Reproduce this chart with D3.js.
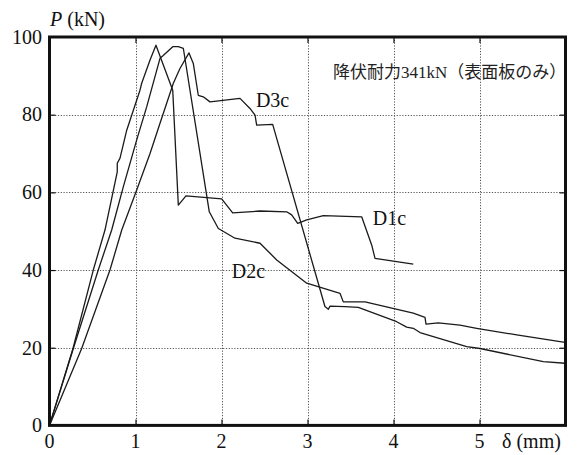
<!DOCTYPE html>
<html>
<head>
<meta charset="utf-8">
<script src="https://cdn.jsdelivr.net/npm/d3@7"></script>
<style>
  html, body { margin: 0; padding: 0; background: #fff; }
  svg { display: block; }
</style>
</head>
<body>
<svg id="chart" width="577" height="455"></svg>
<script>
// Load–displacement curves of the three specimens: [δ (mm), P (kN)]
const d1c = [
  [0, 0], [0.273, 19.8], [0.509, 40.0], [0.645, 50.3], [0.788, 65.3], [0.788, 67.5],
  [0.820, 68.8], [0.898, 76.0], [1.052, 86.3], [1.072, 88.1], [1.169, 94.1], [1.238, 97.9],
  [1.433, 86.3], [1.498, 56.7], [1.587, 59.1], [2.002, 58.3], [2.130, 54.7], [2.448, 55.2],
  [2.758, 55.0], [2.816, 54.2], [2.886, 52.0], [2.991, 52.9], [3.184, 54.0], [3.630, 53.7],
  [3.747, 46.4], [3.785, 43.0], [4.230, 41.5]
];
const d2c = [
  [0, 0], [0.277, 19.8], [0.567, 40.0], [0.723, 50.3], [0.858, 61.4], [1.014, 73.5],
  [1.130, 82.0], [1.285, 94.5], [1.316, 95.1], [1.433, 97.5], [1.498, 97.5], [1.556, 97.1],
  [1.858, 55.0], [1.963, 50.7], [2.157, 48.2], [2.448, 46.9], [2.642, 42.6], [2.991, 36.6],
  [3.378, 34.0], [3.416, 31.8], [3.669, 31.8], [4.230, 28.9], [4.366, 27.8], [4.378, 26.1],
  [4.521, 26.4], [4.773, 25.8], [4.967, 25.0], [5.433, 23.3], [5.994, 21.4]
];
const d3c = [
  [0, 0], [0.374, 19.8], [0.703, 40.0], [0.840, 50.3], [1.014, 60.6], [1.169, 70.0],
  [1.285, 77.8], [1.440, 88.1], [1.517, 91.9], [1.622, 95.9], [1.672, 93.2], [1.730, 85.0],
  [1.788, 84.6], [1.866, 83.3], [2.215, 84.2], [2.331, 81.6], [2.390, 79.9], [2.409, 77.3],
  [2.595, 77.5], [3.203, 30.6], [3.242, 29.9], [3.262, 30.7], [3.436, 30.6], [3.591, 30.4],
  [4.037, 26.7], [4.153, 25.3], [4.230, 25.0], [4.308, 23.9], [4.851, 20.3], [5.006, 19.8],
  [5.742, 16.4], [5.994, 16.0]
];

const seriesNames = ["D1c", "D2c", "D3c"];
const seriesData = [d1c, d2c, d3c];
// where each series name is written: [δ, P] of the label's left baseline
const labelAnchors = [[3.76, 51.5], [2.12, 37.9], [2.40, 82.0]];

const xTicks = [0, 1, 2, 3, 4, 5];
const yTicks = [0, 20, 40, 60, 80, 100];
const yieldNote = "降伏耐力341kN（表面板のみ）";

const SERIF = "'Liberation Serif', 'Times New Roman', 'DejaVu Serif', 'Noto Sans CJK JP', serif";

const svg = d3.select("#chart");
const x = d3.scaleLinear().domain([0, 6]).range([49.5, 565.5]);
const y = d3.scaleLinear().domain([0, 100]).range([425.4, 37]);
const [x0, x1] = x.range();
const [y0, y1] = y.range();

// dotted grid
const grid = svg.append("g").attr("stroke", "#555").attr("stroke-width", 1)
  .attr("stroke-dasharray", "1.2,1.6");
grid.selectAll(".gx").data(xTicks.filter(d => d > 0)).join("line")
  .attr("x1", d => Math.round(x(d)) + 0.5).attr("x2", d => Math.round(x(d)) + 0.5)
  .attr("y1", y1).attr("y2", y0);
grid.selectAll(".gy").data(yTicks.filter(d => d > 0 && d < 100)).join("line")
  .attr("y1", d => Math.round(y(d)) + 0.5).attr("y2", d => Math.round(y(d)) + 0.5)
  .attr("x1", x0).attr("x2", x1);

// inward tick marks via d3 axes
const tickLen = 6;
const inner = yTicks.filter(d => d > 0 && d < 100);
const innerX = xTicks.filter(d => d > 0);
const axL = svg.append("g").attr("transform", `translate(${x0},0)`)
  .call(d3.axisRight(y).tickValues(inner).tickSize(tickLen).tickFormat(""));
const axR = svg.append("g").attr("transform", `translate(${x1},0)`)
  .call(d3.axisLeft(y).tickValues(inner).tickSize(tickLen).tickFormat(""));
const axB = svg.append("g").attr("transform", `translate(0,${y0})`)
  .call(d3.axisTop(x).tickValues(innerX).tickSize(tickLen).tickFormat(""));
const axT = svg.append("g").attr("transform", `translate(0,${y1})`)
  .call(d3.axisBottom(x).tickValues(innerX).tickSize(tickLen).tickFormat(""));
[axL, axR, axB, axT].forEach(g => {
  g.select(".domain").remove();
  g.selectAll("line").attr("stroke", "#111").attr("stroke-width", 1.2);
});

// curves
const line = d3.line().x(d => x(d[0])).y(d => y(d[1]));
svg.append("g").selectAll("path").data(seriesData).join("path")
  .attr("d", line).attr("fill", "none").attr("stroke", "#1a1a1a")
  .attr("stroke-width", 1.3).attr("stroke-linejoin", "round");

// frame
svg.append("rect").attr("x", x0).attr("y", y1).attr("width", x1 - x0).attr("height", y0 - y1)
  .attr("fill", "none").attr("stroke", "#111").attr("stroke-width", 3);

// tick labels
svg.append("g").selectAll("text").data(yTicks).join("text")
  .attr("font-family", SERIF).attr("fill", "#111")
  .attr("x", 42).attr("y", d => y(d)).attr("dy", "0.34em")
  .attr("text-anchor", "end").attr("font-size", 20).text(d => d);
svg.append("g").selectAll("text").data(xTicks).join("text")
  .attr("font-family", SERIF).attr("fill", "#111")
  .attr("x", d => x(d)).attr("y", 448)
  .attr("text-anchor", "middle").attr("font-size", 20).text(d => d);

// axis titles
const pt = svg.append("text").attr("font-family", SERIF).attr("fill", "#111")
  .attr("x", 50).attr("y", 26).attr("font-size", 20);
pt.append("tspan").attr("font-style", "italic").text("P");
pt.append("tspan").text(" (kN)");
svg.append("text").attr("font-family", SERIF).attr("fill", "#111")
  .attr("x", 502).attr("y", 448).attr("font-size", 20).text("δ (mm)");

// series labels
svg.append("g").selectAll("text").data(seriesNames).join("text")
  .attr("font-family", SERIF).attr("fill", "#111")
  .attr("x", (d, i) => x(labelAnchors[i][0])).attr("y", (d, i) => y(labelAnchors[i][1]))
  .attr("font-size", 20).text(d => d);

// yield note
svg.append("text").attr("font-family", SERIF).attr("fill", "#222")
  .attr("x", 333).attr("y", 78).attr("font-size", 17).text(yieldNote);
</script>
</body>
</html>
